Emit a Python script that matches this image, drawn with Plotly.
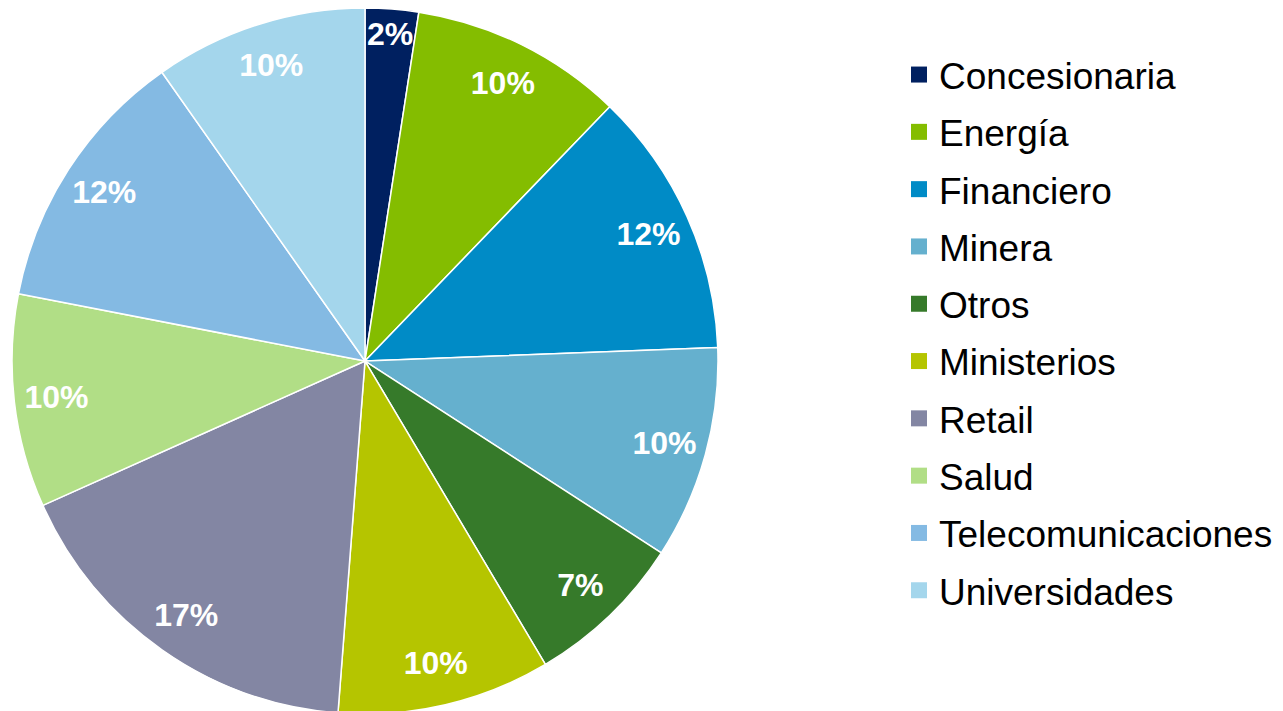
import plotly.graph_objects as go

# sectors and number of projects in each
sectores = ["Concesionaria", "Energía", "Financiero", "Minera", "Otros",
            "Ministerios", "Retail", "Salud", "Telecomunicaciones", "Universidades"]
proyectos = [1, 4, 5, 4, 3, 4, 7, 4, 5, 4]
colores = ["#002060", "#84BD00", "#008BC6", "#65B0CE", "#367A2A",
           "#B5C500", "#8386A3", "#B1DE86", "#84BAE3", "#A4D6EC"]

# page body adds an 8px offset, compensate for it
dominio = dict(x=[4 / 1283, 710 / 1283], y=[0.007, 1])

fig = go.Figure()

fig.add_trace(go.Pie(
    labels=sectores,
    values=proyectos,
    sort=False,
    direction="clockwise",
    rotation=0,
    marker=dict(colors=colores, line=dict(color="white", width=1.5)),
    textinfo="none",
    hoverinfo="label+value+percent",
    showlegend=False,
    domain=dominio,
))

# transparent ring on top, only to place the percentages near the rim
fig.add_trace(go.Pie(
    labels=sectores,
    values=proyectos,
    sort=False,
    direction="clockwise",
    rotation=0,
    hole=0.76,
    marker=dict(colors=["rgba(0,0,0,0)"] * len(sectores), line=dict(width=0)),
    texttemplate="%{percent:.0%}",
    textposition="inside",
    insidetextorientation="horizontal",
    insidetextfont=dict(family="Arial, Liberation Sans", size=32, color="white", weight="bold"),
    hoverinfo="skip",
    showlegend=False,
    domain=dominio,
))

# legend entries (one per sector, so the spacing between rows can be set)
for nombre, color in zip(sectores, colores):
    fig.add_trace(go.Scatter(
        x=[None], y=[None],
        mode="markers",
        marker=dict(symbol="square", size=16, color=color),
        name=nombre,
        legendgroup=nombre,
        showlegend=True,
        hoverinfo="skip",
    ))

fig.update_layout(
    width=1283,
    height=711,
    margin=dict(l=0, r=0, t=0, b=0),
    paper_bgcolor="white",
    plot_bgcolor="white",
    uniformtext=dict(minsize=32, mode="show"),
    xaxis=dict(visible=False),
    yaxis=dict(visible=False),
    legend=dict(
        x=891 / 1283, y=1 - 36 / 711,
        xanchor="left", yanchor="top",
        font=dict(family="Arial, Liberation Sans", size=37, color="black"),
        tracegroupgap=6.2,
        traceorder="grouped",
        bgcolor="rgba(0,0,0,0)",
    ),
)

fig.write_html("out.html")
